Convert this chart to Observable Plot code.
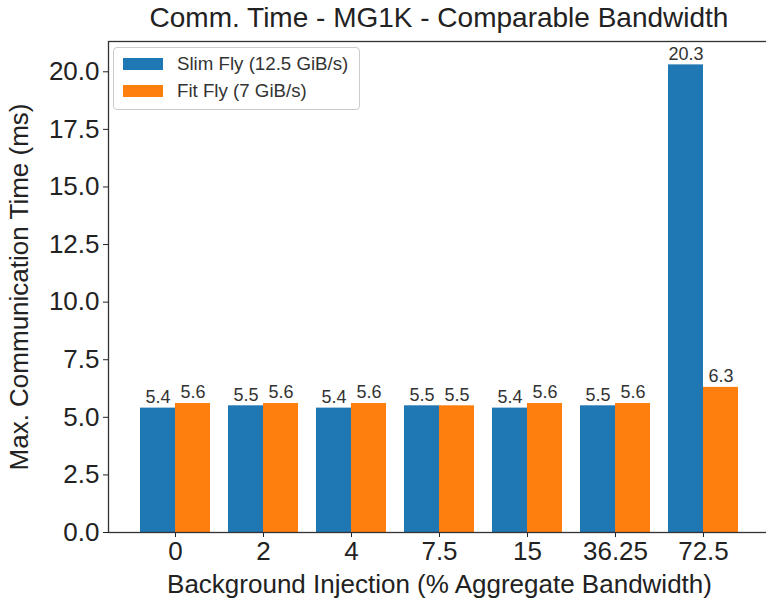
<!DOCTYPE html>
<html>
<head>
<meta charset="utf-8">
<script src="https://cdn.jsdelivr.net/npm/d3@7"></script>
<script src="https://cdn.jsdelivr.net/npm/@observablehq/plot@0.6"></script>
<style>
  html, body { margin: 0; padding: 0; background: #fff; overflow: hidden; }
  #chart { position: relative; width: 766px; height: 602px; overflow: hidden;
           font-family: "Liberation Sans", Arial, sans-serif; color: #222; }
  #chart svg { max-width: none !important; width: 770px !important; height: 602px !important;
               position: absolute; left: 0; top: 0; }
  #title { position: absolute; top: 3px; left: 439px; transform: translateX(-50%);
           white-space: nowrap; font-size: 28px; line-height: 30px; color: #222; }
  #legend { position: absolute; left: 113px; top: 47px; width: 245px; height: 61px;
            border: 1px solid #ccc; border-radius: 4px; background: rgba(255,255,255,0.85); }
  #legend .item { position: absolute; left: 0; height: 20px; white-space: nowrap; }
  #legend .sw { position: absolute; left: 9px; top: 4px; width: 40px; height: 12px; }
  #legend .lab { position: absolute; left: 63px; top: -1px; font-size: 18.7px; line-height: 22px; color: #333; }
</style>
</head>
<body>
<div id="chart">
  <div id="title"></div>
  <div id="legend"></div>
</div>
<script>
// Background injection levels (x categories)
const categories = ["0", "2", "4", "7.5", "15", "36.25", "72.5"];
// Series names and colours
const seriesNames = ["Slim Fly (12.5 GiB/s)", "Fit Fly (7 GiB/s)"];
const seriesColors = ["#1f77b4", "#ff7f0e"];
// Max. communication time (ms) per injection level
const slimFly = [5.4, 5.5, 5.4, 5.5, 5.4, 5.5, 20.3];
const fitFly  = [5.6, 5.6, 5.6, 5.5, 5.6, 5.6, 6.3];
// y-axis ticks
const yTicks = [0, 2.5, 5, 7.5, 10, 12.5, 15, 17.5, 20];

const titleText = "Comm. Time - MG1K - Comparable Bandwidth";
const xLabel = "Background Injection (% Aggregate Bandwidth)";
const yLabel = "Max. Communication Time (ms)";

const slimRows = categories.map((c, i) => ({cat: c, series: seriesNames[0], value: slimFly[i]}));
const fitRows  = categories.map((c, i) => ({cat: c, series: seriesNames[1], value: fitFly[i]}));
const allRows = slimRows.concat(fitRows);

// matplotlib-like 5% headroom above the tallest bar
const yMax = d3.max(allRows, d => d.value) * 1.05;

const layout = {
  width: 770,
  height: 602,
  marginLeft: 108,
  marginRight: 0,
  marginTop: 41,
  marginBottom: 70,
  style: {fontFamily: "Liberation Sans, Arial, sans-serif", fontSize: "26px", color: "#222", background: "transparent"}
};

const scales = {
  x: {
    domain: categories, paddingInner: 0.2, paddingOuter: 0.34,
    label: xLabel, labelAnchor: "center", labelOffset: 60, labelArrow: false,
    tickSize: 5, tickPadding: 4
  },
  y: {
    domain: [0, yMax], ticks: yTicks, tickFormat: d => d.toFixed(1),
    label: yLabel, labelAnchor: "center", labelOffset: 99, labelArrow: false,
    tickSize: 5, tickPadding: 4
  },
  color: {domain: seriesNames, range: seriesColors}
};

// Each category band holds two side-by-side bars: measure the band first
const probe = Plot.plot({...layout, ...scales, marks: [Plot.barY(allRows, {x: "cat", y: "value"})]});
const half = probe.scale("x").bandwidth / 2;

const valueText = d => d.value.toFixed(1);

const plot = Plot.plot({
  ...layout,
  ...scales,
  marks: [
    Plot.barY(slimRows, {x: "cat", y: "value", fill: "series", insetRight: half}),
    Plot.barY(fitRows,  {x: "cat", y: "value", fill: "series", insetLeft: half}),
    Plot.text(slimRows, {x: "cat", y: "value", text: valueText, dx: -half / 2, dy: -11, fontSize: 18, fill: "#333"}),
    Plot.text(fitRows,  {x: "cat", y: "value", text: valueText, dx:  half / 2, dy: -11, fontSize: 18, fill: "#333"}),
    Plot.frame({stroke: "#333", strokeWidth: 1.3})
  ]
});

const chart = document.getElementById("chart");
chart.insertBefore(plot, chart.firstChild);

document.getElementById("title").textContent = titleText;

const legend = document.getElementById("legend");
seriesNames.forEach((name, i) => {
  const item = document.createElement("div");
  item.className = "item";
  item.style.top = (6 + i * 27) + "px";
  item.innerHTML = `<div class="sw" style="background:${seriesColors[i]}"></div><div class="lab"></div>`;
  item.querySelector(".lab").textContent = name;
  legend.appendChild(item);
});
</script>
</body>
</html>
